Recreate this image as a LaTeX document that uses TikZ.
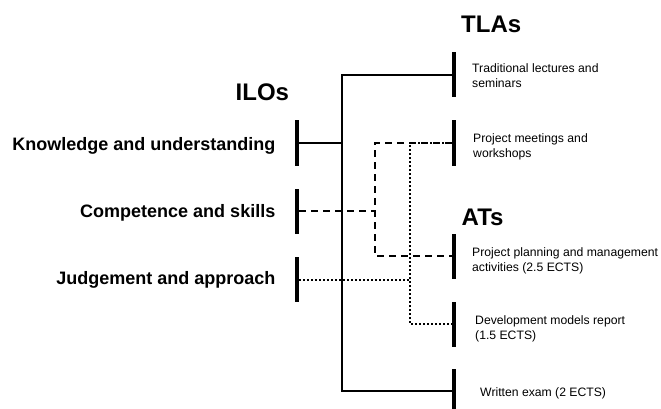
\documentclass[tikz,border=0pt]{standalone}
\usepackage{fontspec}
\setmainfont{Liberation Sans}
\tikzset{
  bar/.style={fill=black, draw=none, inner sep=0pt, minimum width=4pt, minimum height=45pt},
  conn/.style={line width=2pt},
  dashconn/.style={conn, dash pattern=on 7pt off 5pt},
  dotconn/.style={conn, dash pattern=on 2pt off 2pt},
  head/.style={font=\fontsize{24}{28}\selectfont\bfseries, inner sep=0pt, anchor=base west},
  ilo/.style={font=\fontsize{18}{22}\selectfont\bfseries, inner sep=0pt, anchor=base east},
  item/.style={font=\fontsize{12.2}{15}\selectfont, align=left, inner sep=0pt, anchor=base west}
}
\begin{document}
\begin{tikzpicture}[x=1pt,y=-1pt]
\useasboundingbox[fill=white] (0,0) rectangle (661,409);
% headings
\node[head] (ilos) at (235.5,100.5) {ILOs};
\node[head] (tlas) at (461,32.5) {TLAs};
\node[head] (ats) at (461.5,225.5) {ATs};
% ILO labels
\node[ilo] (know) at (275.5,150) {Knowledge and understanding};
\node[ilo] (comp) at (275.5,217) {Competence and skills};
\node[ilo] (judg) at (275.5,284) {Judgement and approach};
% bars
\node[bar] (kb) at (297,143) {};
\node[bar] (cb) at (297,211) {};
\node[bar] (jb) at (297,279) {};
\node[bar] (t1) at (454,75) {};
\node[bar] (t2) at (454,143) {};
\node[bar] (a1) at (454,256) {};
\node[bar] (a2) at (454,324) {};
\node[bar] (a3) at (454,391) {};
% item labels (base = baseline of last line)
\node[item] (t1l) at (472,88) {Traditional lectures and\\seminars};
\node[item] (t2l) at (473,157.3) {Project meetings and\\workshops};
\node[item] (a1l) at (472,271.5) {Project planning and management\\activities (2.5 ECTS)};
\node[item] (a2l) at (475,339) {Development models report\\(1.5 ECTS)};
\node[item] (a3l) at (480,396.5) {Written exam (2 ECTS)};
% junctions
\coordinate (sMid) at (342,143);
\coordinate (sBot) at (342,391);
\coordinate (dMid) at (375,211);
\coordinate (dBot) at (375,256);
\coordinate (pMid) at (410,280);
\coordinate (pBot) at (410,324);
% solid
\draw[conn] (kb.east) -- (sMid);
\draw[conn] (t1.west) -| (sBot) -- (a3.west);
% dashed
\draw[dashconn] (cb.east) -- (dMid);
\draw[dashconn] (t2.west) -| (dBot) -- (a1.west);
% dotted
\draw[dotconn] (jb.east |- pMid) -- (pMid);
\draw[dotconn] (t2.west) -| (pBot) -- (a2.west);
\end{tikzpicture}
\end{document}
